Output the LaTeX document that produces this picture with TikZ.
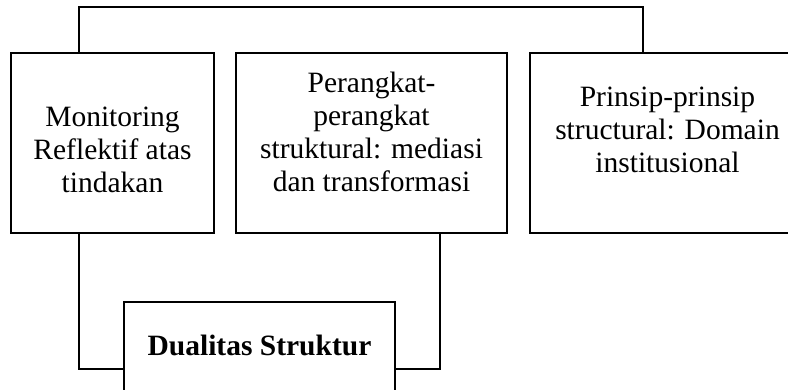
\documentclass[tikz,border=0pt]{standalone}
\usepackage{fontspec}
\setmainfont{Liberation Serif}
\usepackage{tikz}

\begin{document}
\begin{tikzpicture}[x=1pt,y=-1pt,
squarednode/.style={rectangle, draw=black, line width=1.6pt, minimum height=180pt, inner sep=0pt},
textnode/.style={align=center, font=\fontsize{29.5}{33}\selectfont, inner sep=0pt},
thinline/.style={draw=black, line width=1.6pt}
]
\clip (0,0) rectangle (788,389);
%Nodes
\node[squarednode, minimum width=203pt] at (112.5,143) (MON) {};
\node[squarednode, minimum width=271pt] at (371.5,143) (PER) {};
\node[squarednode, minimum width=275pt] at (667.5,143) (PRI) {};
\node[squarednode, minimum width=271pt, minimum height=134pt] at (259.5,369) (DUAL) {};

\node[textnode] at ([yshift=-7]MON.center) (MON-TXT) {Monitoring\\Reflektif atas\\tindakan};
\node[textnode] at ([yshift=11]PER.center) (PER-TXT) {Perangkat-\\perangkat\\struktural: mediasi\\dan transformasi};
\node[textnode] at ([yshift=13]PRI.center) (PRI-TXT) {Prinsip-prinsip\\structural: Domain\\institusional};
\node[textnode, font=\fontsize{29.5}{33}\selectfont\bfseries] at ([yshift=24]DUAL.center) (DUAL-TXT) {Dualitas Struktur};

%Lines
\draw[thinline] ([xshift=-33.5]MON.north) -- ++(0,-45) -| ([xshift=-24.5]PRI.north);
\draw[thinline] ([xshift=-33.5]MON.south) |- (DUAL.west);
\draw[thinline] ([xshift=68.5]PER.south) |- (DUAL.east);
\end{tikzpicture}
\end{document}
